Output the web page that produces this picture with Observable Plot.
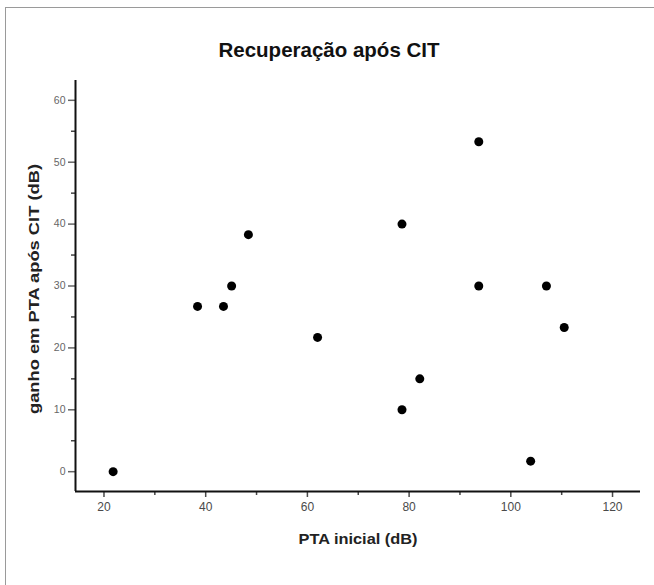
<!DOCTYPE html>
<html>
<head>
<meta charset="utf-8">
<script src="https://cdn.jsdelivr.net/npm/d3@7"></script>
<script src="https://cdn.jsdelivr.net/npm/@observablehq/plot@0.6"></script>
<style>
  html, body { margin: 0; padding: 0; background: #fff; }
  body { width: 654px; height: 585px; overflow: hidden; position: relative; font-family: "Liberation Sans", Arial, sans-serif; }
  #frame { position: absolute; left: 5px; top: 7px; width: 700px; height: 700px; border-top: 1.5px solid #9a9a9a; border-left: 1.5px solid #9a9a9a; }
  #title { position: absolute; left: 0; width: 658px; top: 40px; line-height: 20px; text-align: center; font-weight: bold; font-size: 20.5px; color: #111; }
  #chart { position: absolute; left: 0; top: 0; }
</style>
</head>
<body>
<div id="frame"></div>
<div id="chart"></div>
<div id="title"></div>
<script>
const titleText = "Recuperação após CIT";
const xLabel = "PTA inicial (dB)";
const yLabel = "ganho em PTA após CIT (dB)";

const ptaInicial = [21.8, 38.4, 43.5, 45.1, 48.4, 62.0, 78.6, 78.6, 82.1, 93.7, 93.7, 103.9, 107.0, 110.5];
const ganho      = [0,    26.7, 26.7, 30.0, 38.3, 21.7, 40.0, 10.0, 15.0, 53.3, 30.0, 1.7,   30.0,  23.3];

const xDomain = [14.4, 125.5];
const yDomain = [-3.2, 63.2];
const xTicks = [20, 40, 60, 80, 100, 120];
const xMinorTicks = [30, 50, 70, 90, 110];
const yTicks = [0, 10, 20, 30, 40, 50, 60];
const yMinorTicks = [5, 15, 25, 35, 45, 55];

document.getElementById("title").textContent = titleText;

const data = ptaInicial.map((x, i) => ({x, y: ganho[i]}));

const chart = Plot.plot({
  width: 654,
  height: 585,
  marginLeft: 75,
  marginRight: 14,
  marginTop: 80,
  marginBottom: 94,
  style: { fontFamily: "'Liberation Sans', Arial, sans-serif", background: "transparent", overflow: "visible" },
  x: { domain: xDomain },
  y: { domain: yDomain },
  marks: [
    Plot.axisX({ ticks: xTicks, tickSize: 6, tickPadding: 5, tickFormat: d => d, fontSize: 12, color: "#4a4a4a", strokeWidth: 1.5, label: null }),
    Plot.axisX({ ticks: xMinorTicks, tickSize: 4, text: null, color: "#444", strokeWidth: 1.5, label: null }),
    Plot.axisY({ ticks: yTicks, tickSize: 7, tickPadding: 3, tickFormat: d => d, fontSize: 10.5, color: "#666", strokeWidth: 1.5, label: null }),
    Plot.axisY({ ticks: yMinorTicks, tickSize: 4, text: null, color: "#444", strokeWidth: 1.5, label: null }),
    Plot.ruleY([yDomain[0]], { stroke: "#111", strokeWidth: 2 }),
    Plot.ruleX([xDomain[0]], { stroke: "#111", strokeWidth: 2 }),
    Plot.text([xLabel], { frameAnchor: "bottom", textAnchor: "middle", dy: 52, fontSize: 14, fontWeight: "bold", fill: "#222", className: "xlab" }),
    Plot.text([yLabel], { frameAnchor: "left", textAnchor: "middle", dx: -41, dy: 3, rotate: -90, fontSize: 14, fontWeight: "bold", fill: "#222", className: "ylab" }),
    Plot.dot(data, { x: "x", y: "y", r: 4.5, fill: "#000", stroke: null })
  ]
});
d3.select(chart).selectAll(".xlab text").attr("textLength", 119).attr("lengthAdjust", "spacingAndGlyphs");
d3.select(chart).selectAll(".ylab text").attr("textLength", 250).attr("lengthAdjust", "spacingAndGlyphs");
document.getElementById("chart").appendChild(chart);
</script>
</body>
</html>
